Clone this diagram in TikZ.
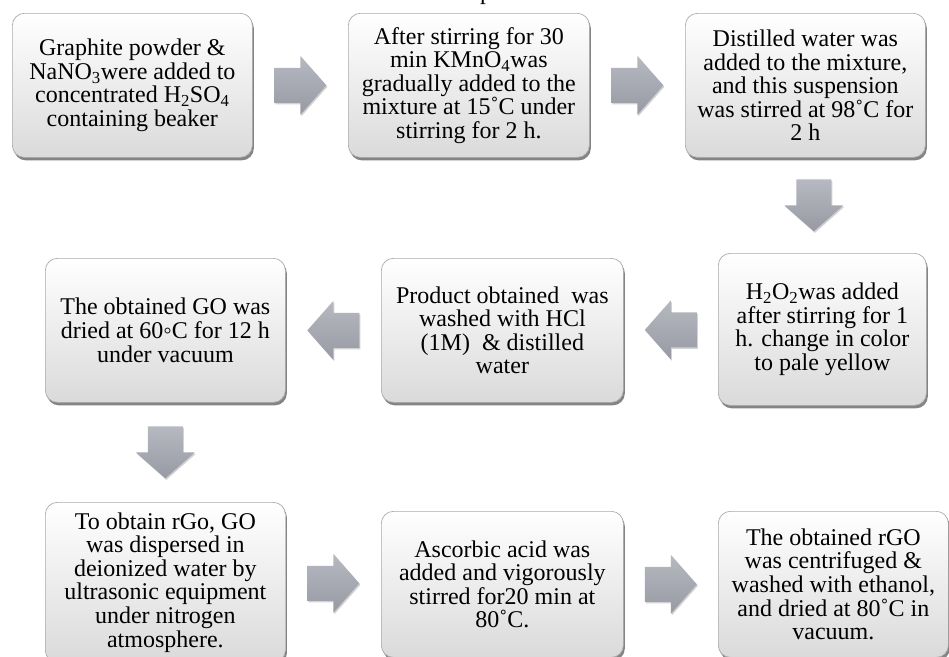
\documentclass[tikz,border=0pt]{standalone}
\usepackage{fontspec}
\setmainfont{Liberation Serif}
\usetikzlibrary{shadows,calc}

\definecolor{boxline}{HTML}{ABABAB}
\definecolor{boxbot}{HTML}{DADADA}
\definecolor{arrowtop}{HTML}{B7B9C1}
\definecolor{arrowbot}{HTML}{979AA3}

\tikzset{
  x=1pt, y=1pt,
  stepbox/.style={
    draw=boxline, line width=0.7pt, rounded corners=12pt,
    top color=white, middle color=white, bottom color=boxbot,
    drop shadow={shadow xshift=1.5pt, shadow yshift=-3pt, opacity=0.6, fill=black!80},
    inner sep=0pt, anchor=north west, align=center,
    font=\fontsize{24}{23.6}\selectfont
  },
  blockarrow/.pic={
    \path[top color=arrowtop, bottom color=arrowbot,
          drop shadow={shadow xshift=1pt, shadow yshift=-1.5pt, opacity=0.35}]
      (-26,-17.5) -- (0,-17.5) -- (0,-29.5) -- (26,0) -- (0,29.5) -- (0,17.5)
      -- (-26,17.5) -- cycle;
  }
}

\begin{document}
\begin{tikzpicture}
\useasboundingbox (0,0) rectangle (949,-656);
\fill[white] (0,0) rectangle (949,-656);

% title line above, cut off by the page edge
\node[anchor=base, inner sep=0pt, font=\fontsize{24}{23}\selectfont] (title) at (486,1) {p};

% first row
\node[stepbox, minimum width=240pt, minimum height=144pt] (b1) at (12,-13)
  {Graphite powder \&\\NaNO\textsubscript{3}were added to\\concentrated H\textsubscript{2}SO\textsubscript{4}\\containing beaker};
\node[stepbox, minimum width=241pt, minimum height=144pt] (b2) at (348,-13)
  {After stirring for 30\\min KMnO\textsubscript{4}was\\gradually added to the\\mixture at 15˚C under\\stirring for 2 h.};
\node[stepbox, minimum width=240pt, minimum height=144pt] (b3) at (685,-13)
  {Distilled water was\\added to the mixture,\\and this suspension\\was stirred at 98˚C for\\2 h};

% second row
\node[stepbox, minimum width=208pt, minimum height=152pt] (b4) at (718,-253)
  {H\textsubscript{2}O\textsubscript{2}was added\\after stirring for 1\\h. change in color\\to pale yellow};
\node[stepbox, minimum width=242pt, minimum height=144pt] (b5) at (381,-258)
  {Product obtained\ \ was\\washed with HCl\\(1M)\ \ \& distilled\\water};
\node[stepbox, minimum width=240pt, minimum height=144pt] (b6) at (45,-258)
  {The obtained GO was\\dried at 60◦C for 12 h\\under vacuum};

% third row
\node[stepbox, minimum width=240pt, minimum height=160pt] (b7) at (45,-502)
  {To obtain rGo, GO\\was dispersed in\\deionized water by\\ultrasonic equipment\\under nitrogen\\atmosphere.};
\node[stepbox, minimum width=242pt, minimum height=146pt] (b8) at (381,-511)
  {Ascorbic acid was\\added and vigorously\\stirred for20 min at\\80˚C.};
\node[stepbox, minimum width=230pt, minimum height=146pt] (b9) at (718,-511)
  {The obtained rGO\\was centrifuged \&\\washed with ethanol,\\and dried at 80˚C in\\vacuum.};

% block arrows between the steps
\pic at ($(b1.east)!0.5!(b2.west)$) {blockarrow};
\pic at ($(b2.east)!0.5!(b3.west)$) {blockarrow};
\pic[rotate=-90] at ($(b3.south)!0.5!(b4.north)$) {blockarrow};
\pic[rotate=180] at ($(b4.west)!0.5!(b5.east)$) {blockarrow};
\pic[rotate=180] at ($(b5.west)!0.5!(b6.east)$) {blockarrow};
\pic[rotate=-90] at ($(b6.south)!0.5!(b7.north)$) {blockarrow};
\pic at ($(b7.east)!0.5!(b8.west)$) {blockarrow};
\pic at ($(b8.east)!0.5!(b9.west)$) {blockarrow};
\end{tikzpicture}
\end{document}
